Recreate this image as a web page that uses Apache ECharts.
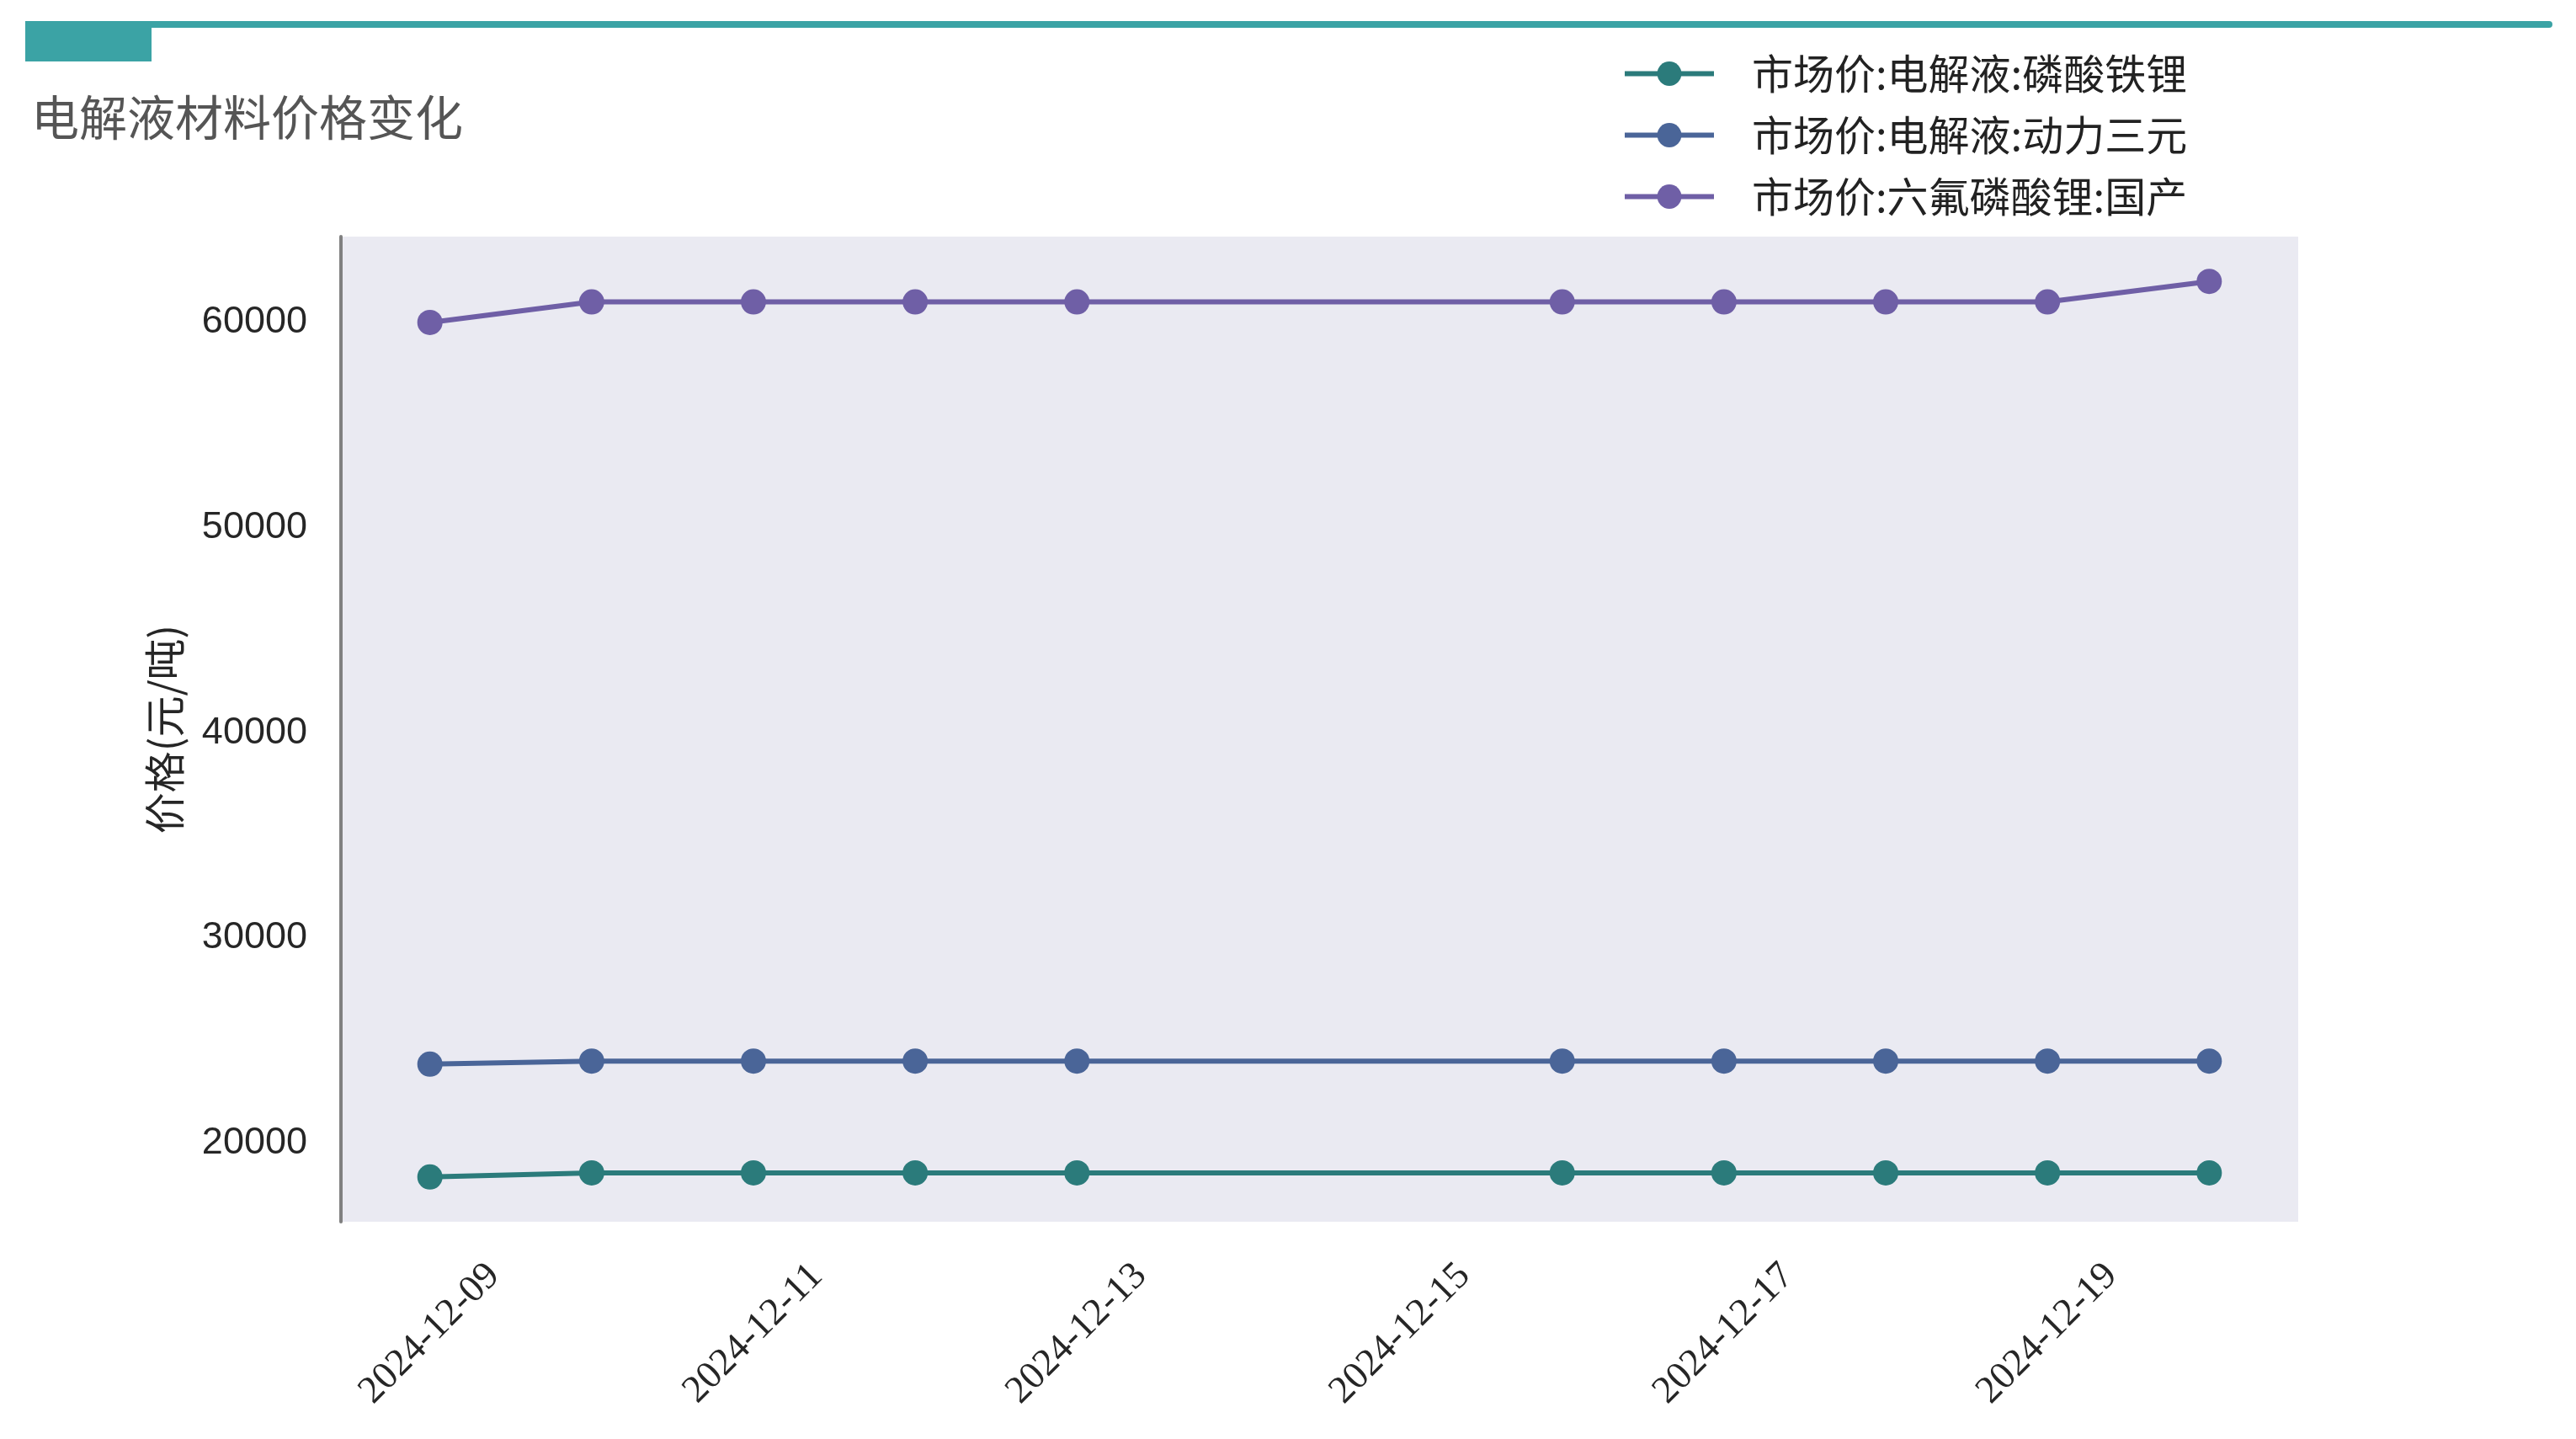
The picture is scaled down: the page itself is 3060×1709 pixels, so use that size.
<!DOCTYPE html>
<html>
<head>
<meta charset="utf-8">
<script src="https://cdn.jsdelivr.net/npm/echarts@6/dist/echarts.min.js"></script>
<style>
  html, body { margin: 0; padding: 0; background: #fff; }
  #chart { width: 3060px; height: 1709px; }
</style>
</head>
<body>
<div id="chart"></div>
<script>
// data
const dates = ['2024-12-09', '2024-12-10', '2024-12-11', '2024-12-12', '2024-12-13',
  '2024-12-16', '2024-12-17', '2024-12-18', '2024-12-19', '2024-12-20'];
const seriesNames = ['市场价:电解液:磷酸铁锂', '市场价:电解液:动力三元', '市场价:六氟磷酸锂:国产'];
const lfpElectrolyte = [18350, 18550, 18550, 18550, 18550, 18550, 18550, 18550, 18550, 18550];
const ternaryElectrolyte = [23850, 24000, 24000, 24000, 24000, 24000, 24000, 24000, 24000, 24000];
const lipf6Domestic = [60000, 61000, 61000, 61000, 61000, 61000, 61000, 61000, 61000, 62000];
const xTickLabels = ['2024-12-09', '2024-12-11', '2024-12-13', '2024-12-15', '2024-12-17', '2024-12-19'];
const yTickLabels = [20000, 30000, 40000, 50000, 60000];
const colors = ['#2B7B7B', '#4A6598', '#6F5FA6'];

function toTs(s) {
  var p = s.split('-');
  return new Date(+p[0], +p[1] - 1, +p[2]).getTime();
}
function pad(n) { return n < 10 ? '0' + n : '' + n; }

// matplotlib-like 5% margins around the data
var allValues = [].concat(lfpElectrolyte, ternaryElectrolyte, lipf6Domestic);
var yMin = Math.min.apply(null, allValues);
var yMax = Math.max.apply(null, allValues);
var yPad = (yMax - yMin) * 0.05;
var xMin = toTs(dates[0]);
var xMax = toTs(dates[dates.length - 1]);
var xPad = (xMax - xMin) * 0.05;

function makeSeries(name, values, color) {
  return {
    name: name,
    type: 'line',
    symbol: 'circle',
    symbolSize: 30,
    showSymbol: true,
    color: color,
    lineStyle: { width: 6, color: color },
    itemStyle: { color: color },
    data: dates.map(function (d, i) { return [toTs(d), values[i]]; })
  };
}

var chart = echarts.init(document.getElementById('chart'));
var option = {
  backgroundColor: '#ffffff',
  animation: false,
  title: {
    text: '电解液材料价格变化',
    left: 32,
    top: 106,
    textStyle: {
      fontFamily: 'Noto Sans CJK SC',
      fontSize: 57,
      fontWeight: 'normal',
      color: '#555555'
    }
  },
  graphic: [
    { type: 'rect', shape: { x: 30, y: 25, width: 3002, height: 8, r: 4 }, style: { fill: '#3BA3A5' } },
    { type: 'rect', shape: { x: 30, y: 25, width: 150, height: 48 }, style: { fill: '#3BA3A5' } }
  ],
  legend: {
    orient: 'vertical',
    left: 1922,
    top: 54,
    itemWidth: 106,
    itemHeight: 36,
    itemGap: 16,
    data: seriesNames,
    lineStyle: { width: 6 },
    textStyle: {
      fontFamily: 'Noto Sans CJK SC',
      fontSize: 49,
      lineHeight: 57,
      color: '#222222',
      padding: [0, 0, 0, 40]
    }
  },
  grid: {
    left: 405,
    right: 330,
    top: 281,
    bottom: 258,
    show: true,
    backgroundColor: '#EAEAF2',
    borderWidth: 0
  },
  xAxis: {
    type: 'value',
    min: xMin - xPad,
    max: xMax + xPad,
    axisLine: { show: false },
    axisTick: { show: false },
    splitLine: { show: false },
    axisLabel: {
      customValues: xTickLabels.map(toTs),
      rotate: 45,
      align: 'center',
      verticalAlign: 'middle',
      margin: 133,
      fontFamily: 'Liberation Serif',
      fontSize: 46,
      color: '#262626',
      formatter: function (v) {
        var d = new Date(v);
        return d.getFullYear() + '-' + pad(d.getMonth() + 1) + '-' + pad(d.getDate());
      }
    }
  },
  yAxis: {
    type: 'value',
    min: yMin - yPad,
    max: yMax + yPad,
    name: '价格(元/吨)',
    nameLocation: 'middle',
    nameGap: 185,
    nameTextStyle: {
      fontFamily: 'Noto Sans CJK SC',
      fontSize: 49,
      color: '#262626'
    },
    axisLine: { show: true, lineStyle: { color: '#808080', width: 4 } },
    axisTick: { show: false },
    splitLine: { show: false },
    axisLabel: {
      customValues: yTickLabels,
      margin: 40,
      fontFamily: 'Liberation Sans',
      fontSize: 45,
      color: '#262626',
      formatter: function (v) { return String(v); }
    }
  },
  series: [
    makeSeries(seriesNames[0], lfpElectrolyte, colors[0]),
    makeSeries(seriesNames[1], ternaryElectrolyte, colors[1]),
    makeSeries(seriesNames[2], lipf6Domestic, colors[2])
  ]
};
chart.setOption(option);
</script>
</body>
</html>
